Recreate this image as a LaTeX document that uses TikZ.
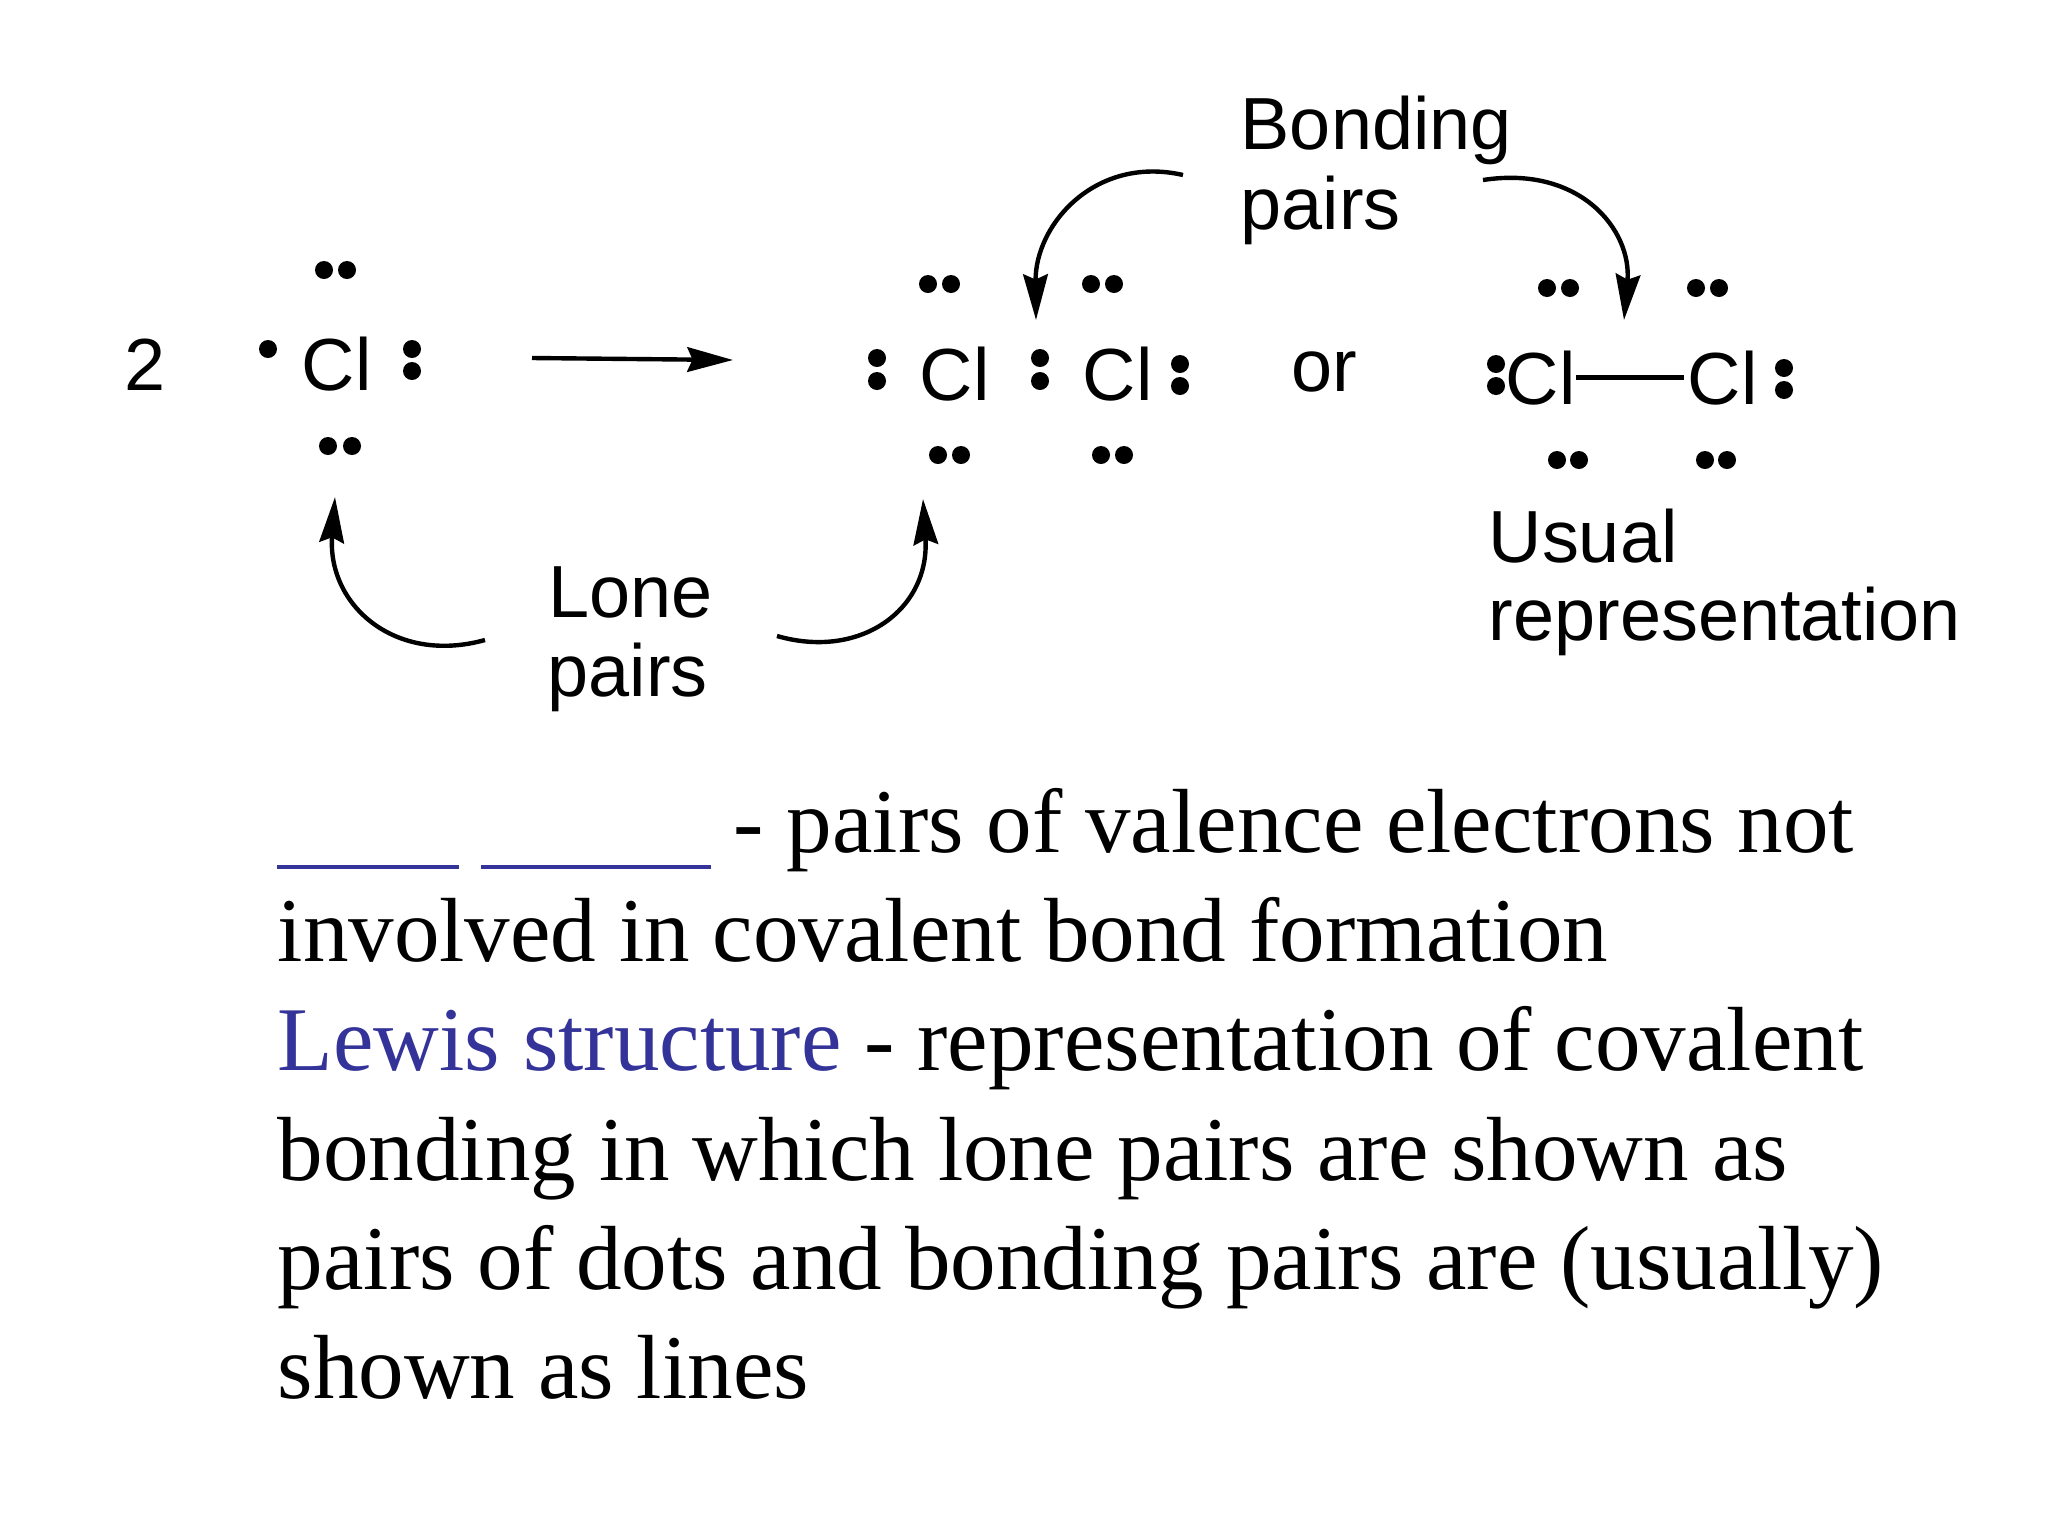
\documentclass[tikz,border=0pt]{standalone}
\usepackage{fontspec}
\usetikzlibrary{arrows.meta}
\setmainfont{Liberation Serif}
\setsansfont{Liberation Sans}
\definecolor{termblue}{HTML}{333399}

\begin{document}
\begin{tikzpicture}[x=0.01cm, y=0.01cm]
        \tikzstyle{every node}+=[inner sep=0pt, anchor=base west]
        \tikzstyle{chem}=[font=\fontsize{21}{25}\sffamily]
        \tikzstyle{body}=[font=\fontsize{25.9}{30}\rmfamily]
        \tikzstyle{curved}=[black, line width=1.25pt, -{Stealth[length=13pt,width=7pt,inset=1.5pt]}]
        \useasboundingbox (0,0) rectangle (2048,-1536);
        % left side
        \node [chem] (two) at (124,-390) {2};
        \node [chem] (cla) at (301,-390) {Cl};
        \fill [black] (324,-270) circle (9);
        \fill [black] (347,-270) circle (9);
        \fill [black] (268,-349) circle (9);
        \fill [black] (412,-349) circle (9);
        \fill [black] (412,-371) circle (9);
        \fill [black] (328,-446) circle (9);
        \fill [black] (352,-446) circle (9);
        \coordinate (rxnstart) at (532,-358);
        \coordinate (rxnend) at (733,-360);
        \draw [curved] (rxnstart) -- (rxnend);
        % dots on the product
        \node [chem] (clb) at (919,-400) {Cl};
        \node [chem] (clc) at (1082,-400) {Cl};
        \fill [black] (928,-284) circle (9);
        \fill [black] (951,-284) circle (9);
        \fill [black] (877,-358) circle (9);
        \fill [black] (877,-381) circle (9);
        \fill [black] (1040,-358) circle (9);
        \fill [black] (1040,-381) circle (9);
        \fill [black] (938,-455) circle (9);
        \fill [black] (961,-455) circle (9);
        \fill [black] (1091,-284) circle (9);
        \fill [black] (1114,-284) circle (9);
        \fill [black] (1180,-364) circle (9);
        \fill [black] (1180,-386) circle (9);
        \fill [black] (1101,-455) circle (9);
        \fill [black] (1124,-455) circle (9);
        \node [chem] (orword) at (1291,-391) {or};
        % usual form
        \node [chem] (cld) at (1505,-404) {Cl};
        \node [chem] (cle) at (1687,-404) {Cl};
        \draw [black, line width=1.25pt, shorten >=1pt] (cld.east) -- (cle.west);
        \fill [black] (1547,-288) circle (9);
        \fill [black] (1570,-288) circle (9);
        \fill [black] (1696,-288) circle (9);
        \fill [black] (1719,-288) circle (9);
        \fill [black] (1496,-364) circle (9);
        \fill [black] (1496,-386) circle (9);
        \fill [black] (1784,-368) circle (9);
        \fill [black] (1784,-390) circle (9);
        \fill [black] (1557,-460) circle (9);
        \fill [black] (1579,-460) circle (9);
        \fill [black] (1705,-460) circle (9);
        \fill [black] (1727,-460) circle (9);
        % labels and their arrows
        \node [chem] (bonding) at (1240,-149) {Bonding};
        \node [chem] (bondpairs) at (1240,-229) {pairs};
        \node [chem] (lone) at (548,-617) {Lone};
        \node [chem] (lonepairs) at (547,-696) {pairs};
        \node [chem] (usual) at (1488,-562) {Usual};
        \node [chem] (repr) at (1488,-640) {representation};
        \coordinate (lonea) at (485,-640);
        \coordinate (loneb) at (335,-497);
        \coordinate (lonec) at (777,-636);
        \coordinate (loned) at (923,-499);
        \coordinate (bonda) at (1183,-175);
        \coordinate (bondb) at (1036,-320);
        \coordinate (bondc) at (1483,-180);
        \coordinate (bondd) at (1624,-320);
        \draw [curved] (lonea) .. controls (395,-665) and (327,-605) .. (loneb);
        \draw [curved] (lonec) .. controls (860,-660) and (930,-610) .. (loned);
        \draw [curved] (bonda) .. controls (1095,-155) and (1035,-225) .. (bondb);
        \draw [curved] (bondc) .. controls (1580,-165) and (1632,-230) .. (bondd);
        % definitions
        \coordinate (blanka) at (277,-867);
        \coordinate (blankb) at (459,-867);
        \coordinate (blankc) at (481,-867);
        \coordinate (blankd) at (711,-867);
        \draw [termblue, line width=1pt] (blanka) -- (blankb);
        \draw [termblue, line width=1pt] (blankc) -- (blankd);
        \node [body] (linea) at (733,-852) {- pairs of valence electrons not};
        \node [body] (lineb) at (277,-961) {involved in covalent bond formation};
        \node [body] (linec) at (277,-1070) {\textcolor{termblue}{Lewis structure} - representation of covalent};
        \node [body] (lined) at (277,-1180) {bonding in which lone pairs are shown as};
        \node [body] (linee) at (277,-1289) {pairs of dots and bonding pairs are (usually)};
        \node [body] (linef) at (277,-1398) {shown as lines};
\end{tikzpicture}
\end{document}
